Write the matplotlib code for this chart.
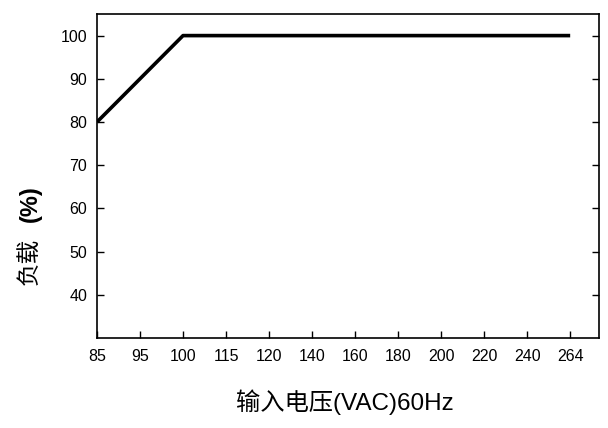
import matplotlib
matplotlib.use("Agg")
import matplotlib.pyplot as plt

# 输入电压 categories (equally spaced on the axis) and load values
voltage_labels = ["85", "95", "100", "115", "120", "140", "160", "180", "200", "220", "240", "264"]
line_idx = [0, 2, 11]          # positions of 85, 100, 264
line_load = [80, 100, 100]
y_ticks = [40, 50, 60, 70, 80, 90, 100]

fonts = ["Liberation Sans", "Noto Sans CJK SC", "DejaVu Sans"]
plt.rcParams["font.family"] = fonts

fig = plt.figure(figsize=(6.08, 4.28), dpi=100)
ax = fig.add_axes([97 / 608, 1 - 338 / 428, (599 - 97) / 608, (338 - 14) / 428])

ax.plot(line_idx, line_load, color="black", linewidth=2.6, solid_capstyle="butt")

ax.set_xlim(0, 11.67)
ax.set_ylim(30, 105)
ax.set_xticks(range(len(voltage_labels)))
ax.set_xticklabels(voltage_labels)
ax.set_yticks(y_ticks)

ax.tick_params(axis="both", direction="in", length=5, width=1, labelsize=11.5, colors="black")
ax.tick_params(axis="y", right=True, pad=7)
ax.tick_params(axis="x", pad=8)
for s in ax.spines.values():
    s.set_linewidth(1.2)

# y label: CJK part and a bold "(%)"
fig.text(29 / 608, 1 - 261 / 428, "负载", rotation=90, ha="center", va="center",
         fontsize=17, family=["Noto Sans CJK SC", "DejaVu Sans"])
fig.text(30 / 608, 1 - 204 / 428, "(%)", rotation=90, ha="center", va="center",
         fontsize=17, fontweight="bold", family=fonts)
fig.text(345 / 608, 1 - 402 / 428, "输入电压(VAC)60Hz", ha="center", va="center",
         fontsize=17.5, family=fonts)

fig.savefig("out.png", dpi=100)
